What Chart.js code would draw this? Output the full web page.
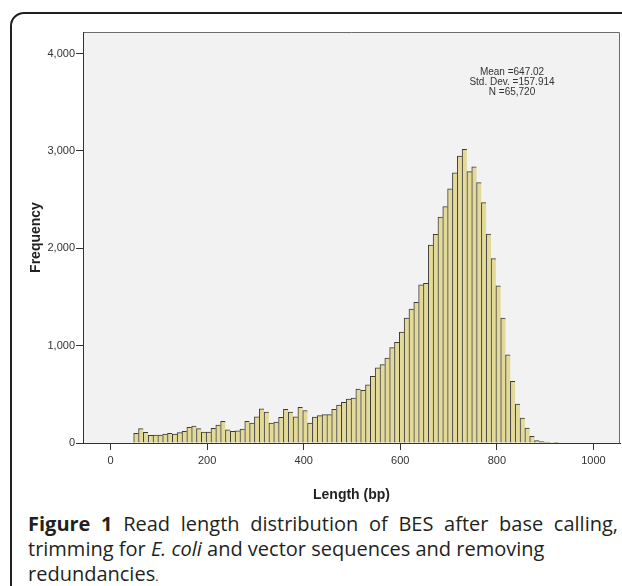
<!DOCTYPE html>
<html>
<head>
<meta charset="utf-8">
<script src="https://cdn.jsdelivr.net/npm/chart.js@4.4.1/dist/chart.umd.min.js"></script>
<style>
  html, body { margin: 0; padding: 0; background: #fff; }
  body { width: 622px; height: 586px; position: relative; overflow: hidden; }
  #frame {
    position: absolute; left: 10px; top: 12px; width: 700px; height: 700px;
    border: 2px solid #231f20; border-radius: 14px;
  }
  #chart { position: absolute; left: 0; top: 0; }
  #caption {
    position: absolute; left: 28px; top: 511px; width: 590px;
    font-family: "Open Sans", "Noto Sans", sans-serif; font-size: 20px; line-height: 25px;
    color: #231f20;
  }
  #caption .l1 { text-align: justify; text-align-last: justify; white-space: nowrap; }
  #caption b { font-weight: bold; }
</style>
</head>
<body>
<div id="frame"></div>
<canvas id="chart" width="622" height="510"></canvas>
<div id="caption"><div class="l1"><b>Figure 1</b> Read length distribution of BES after base calling,</div>trimming for <i>E. coli</i> and vector sequences and removing<br>redundancies<span style="font-size:12px">.</span></div>

<script>
// bin centres (bp), bin width 10
const binCenters = [
    53, 63, 73, 83, 93, 103, 113, 123, 133, 143,
    153, 163, 173, 183, 193, 203, 213, 223, 233, 243,
    253, 263, 273, 283, 293, 303, 313, 323, 333, 343,
    353, 363, 373, 383, 393, 403, 413, 423, 433, 443,
    453, 463, 473, 483, 493, 503, 513, 523, 533, 543,
    553, 563, 573, 583, 593, 603, 613, 623, 633, 643,
    653, 663, 673, 683, 693, 703, 713, 723, 733, 743,
    753, 763, 773, 783, 793, 803, 813, 823, 833, 843,
    853, 863, 873, 883, 893, 903, 913, 923
];

const frequency = [
    100, 147, 110, 80, 82, 82, 92, 99, 92, 106,
    120, 161, 174, 147, 113, 113, 150, 185, 222, 136,
    120, 126, 144, 222, 205, 270, 352, 318, 205, 215,
    263, 345, 318, 270, 366, 332, 205, 265, 282, 291,
    291, 345, 390, 417, 451, 462, 554, 540, 598, 684,
    773, 805, 872, 980, 1035, 1140, 1284, 1375, 1445, 1624,
    1641, 2034, 2144, 2321, 2428, 2612, 2776, 2947, 3016, 2787,
    2838, 2674, 2469, 2147, 1894, 1614, 1282, 906, 633, 400,
    256, 154, 68, 24, 14, 10, 5, 3
];

const xTicks = [0, 200, 400, 600, 800, 1000];
const yTicks = [0, 1000, 2000, 3000, 4000];
const statsLines = ['Mean =647.02', 'Std. Dev. =157.914', 'N =65,720'];

// plot background, top/right box lines, stats text
const plotDecor = {
    id: 'plotDecor',
    beforeDraw(chart) {
        const { ctx, chartArea: a } = chart;
        ctx.save();
        ctx.fillStyle = '#f2f2f2';
        ctx.fillRect(a.left, a.top, a.right - a.left, a.bottom - a.top);
        ctx.strokeStyle = '#6b6b6b';
        ctx.lineWidth = 1;
        ctx.beginPath();
        ctx.moveTo(a.left, a.top + 0.5);
        ctx.lineTo(a.right - 0.5, a.top + 0.5);
        ctx.lineTo(a.right - 0.5, a.bottom);
        ctx.stroke();
        ctx.restore();
    },
    afterDraw(chart) {
        const { ctx, chartArea: a } = chart;
        ctx.save();
        ctx.fillStyle = '#333';
        ctx.font = '10px Arial, "Liberation Sans", sans-serif';
        ctx.textAlign = 'center';
        ctx.textBaseline = 'middle';
        statsLines.forEach((t, i) => {
            ctx.fillText(t, a.left + 429, a.top + 40 + i * 10);
        });
        ctx.restore();
    }
};

const axisFont = { family: 'Arial, "Liberation Sans", sans-serif', size: 11 };
const titleFont = { family: 'Arial, "Liberation Sans", sans-serif', size: 14, weight: 'bold' };

new Chart(document.getElementById('chart').getContext('2d'), {
    type: 'bar',
    data: {
        datasets: [{
            label: 'Frequency',
            data: binCenters.map((x, i) => ({ x: x, y: frequency[i] })),
            backgroundColor: '#e3da9a',
            borderColor: '#3a3a3a',
            borderWidth: { top: 1, left: 1, right: 0, bottom: 0 },
            borderSkipped: false,
            barPercentage: 1,
            categoryPercentage: 1
        }]
    },
    options: {
        responsive: false,
        animation: false,
        layout: { padding: { left: 0, top: 32, right: 2, bottom: 0 } },
        plugins: { legend: { display: false }, tooltip: { enabled: false } },
        scales: {
            x: {
                type: 'linear',
                offset: false,
                min: -57,
                max: 1055,
                afterFit: (s) => { s.height = 67; },
                afterBuildTicks: (s) => { s.ticks = xTicks.map(v => ({ value: v })); },
                ticks: {
                    font: axisFont, color: '#333', padding: 4,
                    callback: (v) => String(v)
                },
                grid: { offset: false, drawOnChartArea: false, drawTicks: true, tickLength: 7, color: '#333' },
                border: { display: true, color: '#333', width: 1 },
                title: {
                    display: true, text: 'Length (bp)', color: '#222',
                    font: titleFont,
                    padding: { top: 0, bottom: 6 }
                }
            },
            y: {
                min: 0,
                max: 4222,
                afterFit: (s) => { s.width = 83; },
                afterBuildTicks: (s) => { s.ticks = yTicks.map(v => ({ value: v })); },
                ticks: { font: axisFont, color: '#333', padding: 1 },
                grid: { drawOnChartArea: false, drawTicks: true, tickLength: 7, color: '#333' },
                border: { display: true, color: '#333', width: 1 },
                title: {
                    display: true, text: 'Frequency', color: '#222',
                    font: titleFont,
                    padding: { top: 28, bottom: 0 }
                }
            }
        }
    },
    plugins: [plotDecor]
});
</script>
</body>
</html>
